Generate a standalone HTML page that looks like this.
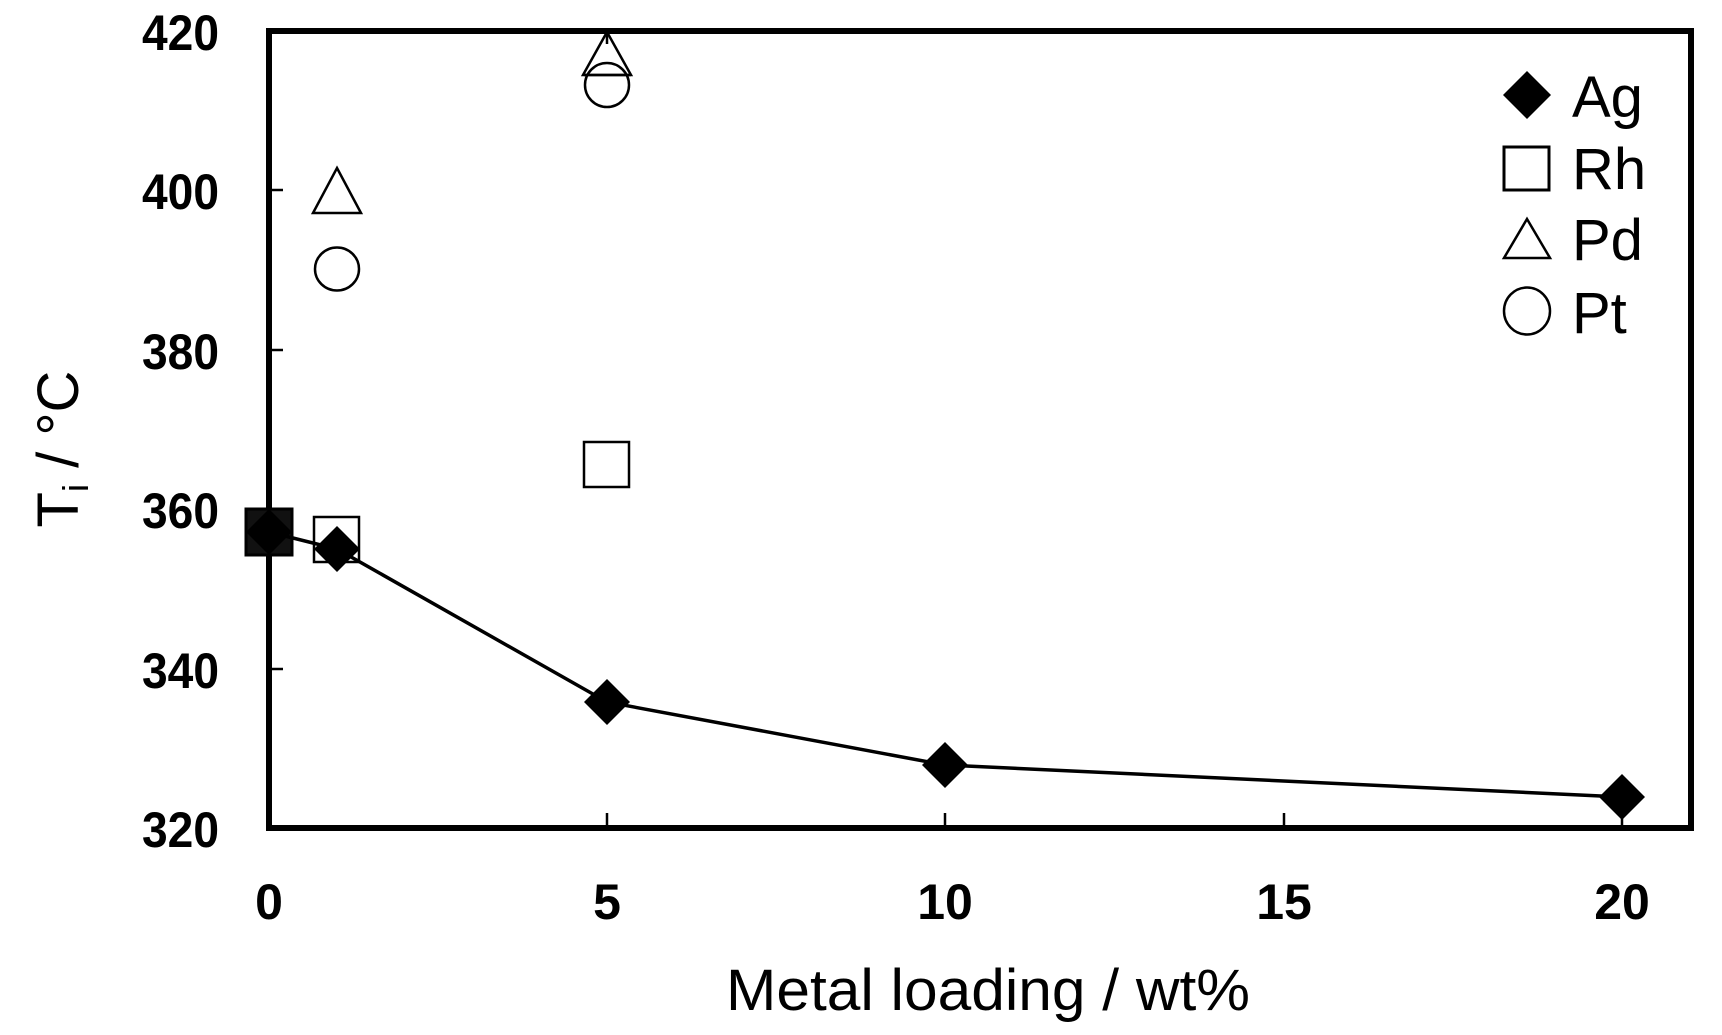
<!DOCTYPE html>
<html><head><meta charset="utf-8"><style>html,body{margin:0;padding:0;background:#fff}svg{display:block}</style></head>
<body>
<svg width="1722" height="1035" viewBox="0 0 1722 1035" xmlns="http://www.w3.org/2000/svg">
<g font-family="Liberation Sans, Arial, sans-serif">
<rect x="269" y="31" width="1422" height="797" fill="none" stroke="#000" stroke-width="6"/>
<g stroke="#000" stroke-width="2.5">
<line x1="269" y1="190" x2="283" y2="190"/>
<line x1="269" y1="350" x2="283" y2="350"/>
<line x1="269" y1="509" x2="283" y2="509"/>
<line x1="269" y1="669" x2="283" y2="669"/>
<line x1="607" y1="828" x2="607" y2="813"/>
<line x1="945" y1="828" x2="945" y2="813"/>
<line x1="1284" y1="828" x2="1284" y2="813"/>
<line x1="1622" y1="828" x2="1622" y2="813"/>
<line x1="607" y1="31" x2="607" y2="44"/>
</g>
<g font-weight="bold" font-size="50" text-anchor="end">
<text x="219" y="50" textLength="77" lengthAdjust="spacingAndGlyphs">420</text>
<text x="219" y="209" textLength="77" lengthAdjust="spacingAndGlyphs">400</text>
<text x="219" y="369" textLength="77" lengthAdjust="spacingAndGlyphs">380</text>
<text x="219" y="528" textLength="77" lengthAdjust="spacingAndGlyphs">360</text>
<text x="219" y="688" textLength="77" lengthAdjust="spacingAndGlyphs">340</text>
<text x="219" y="847" textLength="77" lengthAdjust="spacingAndGlyphs">320</text>
</g>
<g font-weight="bold" font-size="50" text-anchor="middle">
<text x="269" y="919">0</text>
<text x="607" y="919">5</text>
<text x="945" y="919">10</text>
<text x="1284" y="919">15</text>
<text x="1622" y="919">20</text>
</g>
<text x="988" y="1010" font-size="58" text-anchor="middle" textLength="524" lengthAdjust="spacingAndGlyphs">Metal loading / wt%</text>
<g transform="translate(78,449) rotate(-90)">
<text x="0" y="0" font-size="58" text-anchor="middle">T<tspan font-size="36" dy="10">i</tspan><tspan dy="-10"> / °C</tspan></text>
</g>
<g fill="none" stroke="#000" stroke-width="2.5">
<rect x="246" y="509" width="46" height="46" fill="#111" stroke-width="3"/>
<rect x="314" y="517" width="45" height="45"/>
<rect x="584" y="442" width="45" height="45"/>
<polygon points="337,168 361,213 313,213"/>
<polygon points="607,32 631,75 583,75"/>
<ellipse cx="337" cy="269" rx="22" ry="21.5"/>
<ellipse cx="607" cy="85" rx="22" ry="22"/>
<line x1="584" y1="75" x2="631" y2="75"/>
</g>
<polyline points="269,532 337,549 607,702 945,765 1622,797" fill="none" stroke="#000" stroke-width="3.5"/>
<g fill="#000">
<polygon points="269,509 292,532 269,555 246,532"/>
<polygon points="337,526 360,549 337,572 314,549"/>
<polygon points="607,679 630,702 607,725 584,702"/>
<polygon points="945,742 968,765 945,788 922,765"/>
<polygon points="1622,774 1645,797 1622,820 1599,797"/>
</g>
<polygon points="1527,71 1551,95 1527,119 1503,95" fill="#000"/>
<rect x="1504" y="147" width="45" height="43" fill="none" stroke="#000" stroke-width="3"/>
<polygon points="1527,219 1550,258 1504,258" fill="none" stroke="#000" stroke-width="2.5"/>
<ellipse cx="1527" cy="311" rx="23" ry="23.5" fill="none" stroke="#000" stroke-width="2.5"/>
<g font-size="58">
<text x="1572" y="117">Ag</text>
<text x="1572" y="189">Rh</text>
<text x="1572" y="260">Pd</text>
<text x="1572" y="333">Pt</text>
</g>
</g>
</svg>
</body></html>
